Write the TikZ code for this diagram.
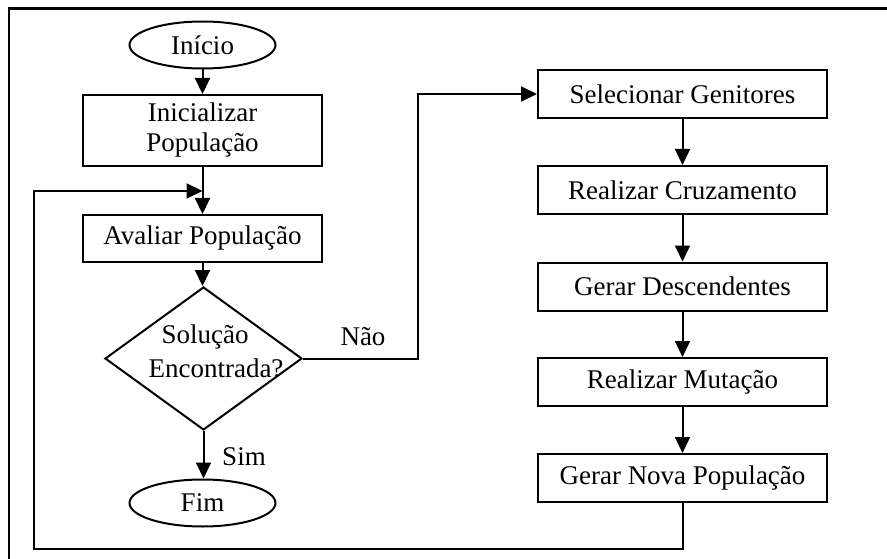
\documentclass[tikz,border=0pt]{standalone}
\usepackage{fontspec}
\setmainfont{Liberation Serif}
\usetikzlibrary{shapes.geometric,arrows.meta}
\begin{document}
\begin{tikzpicture}[x=1pt,y=-1pt,
  every node/.style={font=\fontsize{27}{30}\selectfont},
  procbox/.style={draw,line width=2pt,rectangle,inner sep=0pt,align=center},
  leftbox/.style={procbox,minimum width=239pt},
  rightbox/.style={procbox,minimum width=289pt,minimum height=48pt},
  term/.style={draw,line width=2pt,ellipse,inner sep=0pt,minimum width=146pt,minimum height=47pt},
  decision/.style={draw,line width=2pt,diamond,inner sep=0pt,minimum width=197pt,minimum height=143pt,align=center},
  conn/.style={line width=2pt},
  arr/.style={conn,-{Triangle[length=16pt,width=15pt]}},
  lbl/.style={inner sep=0pt}]
\useasboundingbox (0,0) rectangle (887,559);
% outer frame (only top and left edges visible)
\draw[line width=2.8pt] (9,559) -- (9,8.5) -- (887,8.5);

\node[term] (inicio) at (202.5,45) {Início};
\node[leftbox,minimum height=71pt] (init) at (202.5,130.5) {Inicializar\\População};
\node[leftbox,minimum height=47pt] (aval) at (202.5,238.5) {Avaliar População};
\node[decision] (dec) at (203.5,358.5) {};
\node[lbl] (t1) at (205,337) {Solução};
\node[lbl] (t2) at (216,368) {Encontrada?};
\node[term] (fim) at (202.5,503) {Fim};

\node[rightbox] (sel) at (682.5,94) {Selecionar Genitores};
\node[rightbox] (cruz) at (682.5,190) {Realizar Cruzamento};
\node[rightbox] (desc) at (682.5,286.5) {Gerar Descendentes};
\node[rightbox] (mut) at (682.5,382) {Realizar Mutação};
\node[rightbox] (nova) at (682.5,478) {Gerar Nova População};

\node[lbl] (nao) at (363,337) {Não};
\node[lbl] (sim) at (244,457) {Sim};

\coordinate (join) at (202.5,191);
\coordinate (nao1) at (418,358.5);
\coordinate (nao2) at (418,94);
\coordinate (lp1) at (682.5,549);
\coordinate (lp2) at (34,549);
\coordinate (lp3) at (34,191);

\draw[arr] (inicio.south) -- (init.north);
\draw[arr] (init.south) -- (aval.north);
\draw[arr] (aval.south) -- (aval.south |- dec.north);
\draw[arr] (dec.south) -- (dec.south |- fim.north);
\draw[arr] (dec.east) -- (nao1) -- (nao2) -- (sel.west);
\draw[arr] (sel.south) -- (cruz.north);
\draw[arr] (cruz.south) -- (desc.north);
\draw[arr] (desc.south) -- (mut.north);
\draw[arr] (mut.south) -- (nova.north);
\draw[arr] (nova.south) -- (lp1) -- (lp2) -- (lp3) -- (join);
\end{tikzpicture}
\end{document}
